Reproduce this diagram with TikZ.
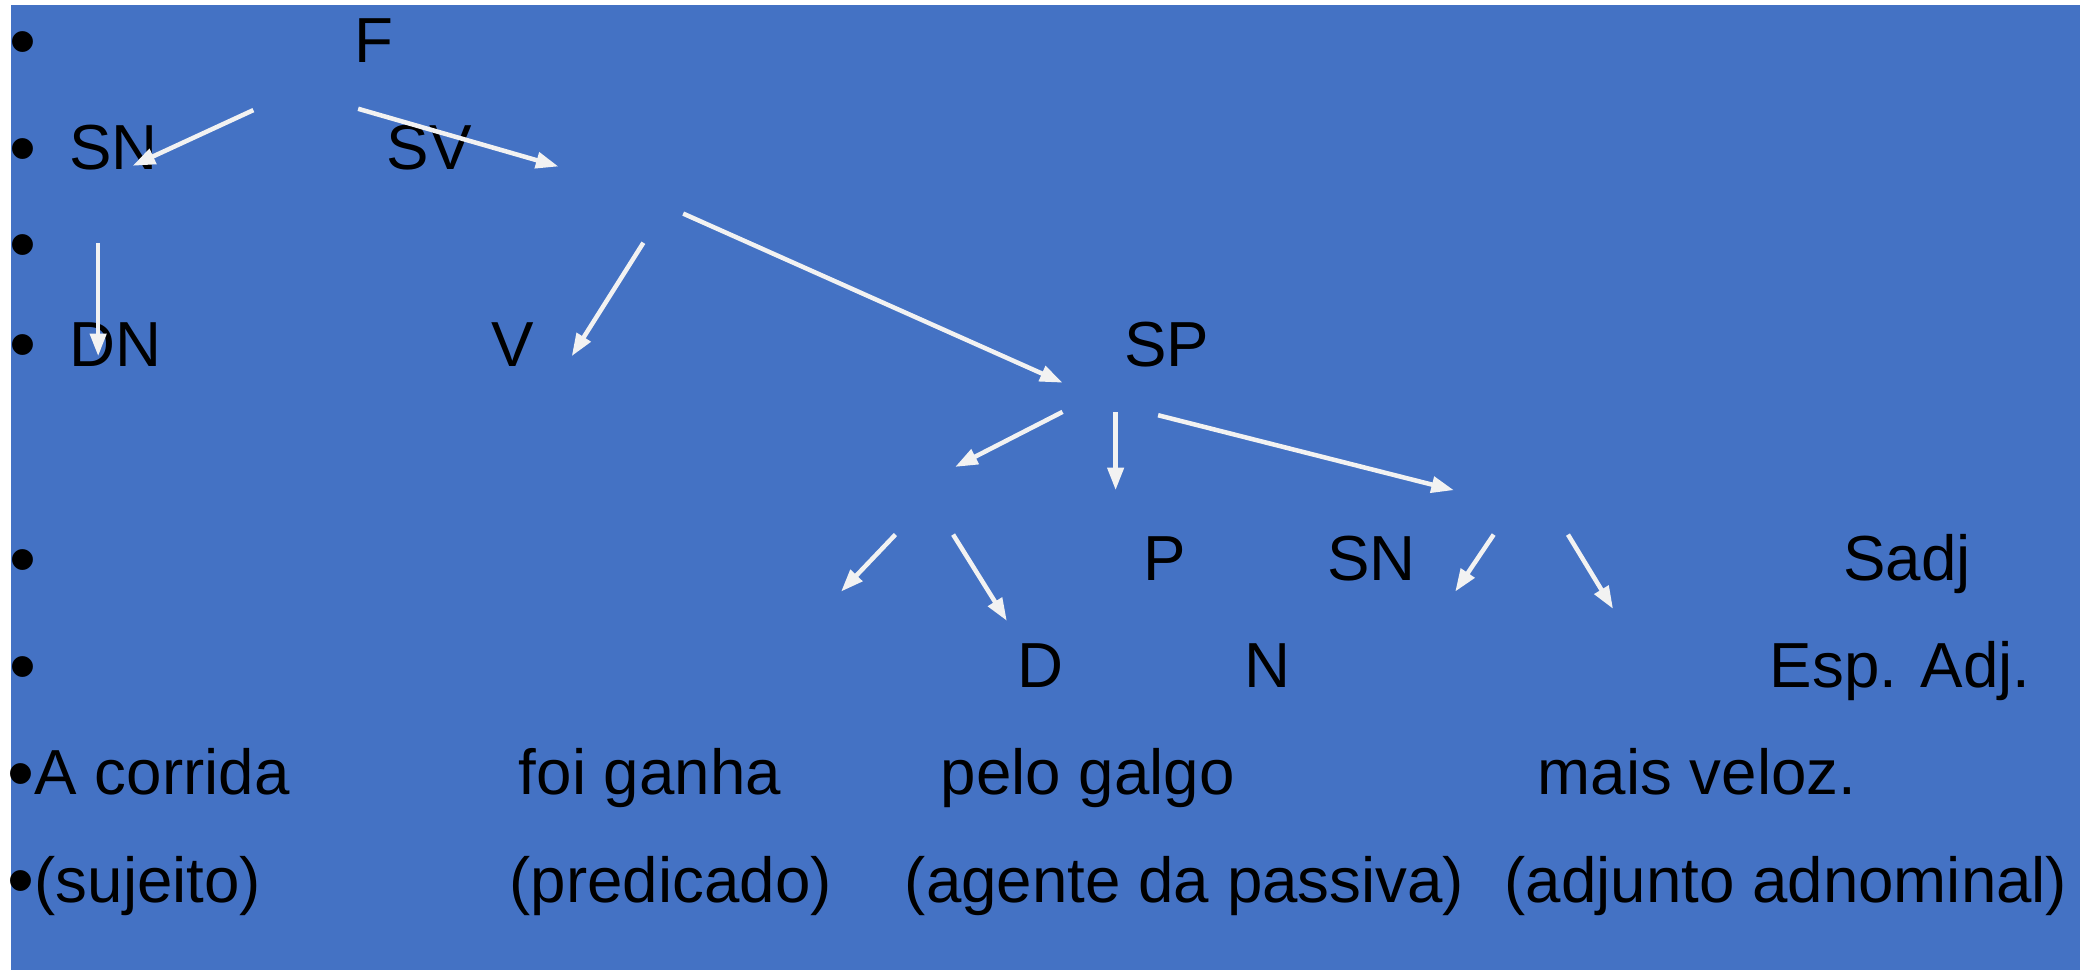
\documentclass[tikz,border=0pt]{standalone}
\usepackage{fontspec}
\setmainfont{Liberation Sans}
\usetikzlibrary{arrows.meta}
\definecolor{bg}{HTML}{4472C4}
\definecolor{arr}{HTML}{F2F2F2}
\newcommand{\bul}{\raisebox{-3.6pt}{\fontsize{58}{58}\selectfont •}}
\begin{document}
\begin{tikzpicture}[x=1pt,y=-1pt,
  txt/.style={anchor=base west, inner sep=0pt, font=\fontsize{48}{57}\selectfont},
  arw/.style={draw=arr, line width=3.4pt, -{Triangle[length=17pt,width=12pt]}}]
\useasboundingbox (0,0) rectangle (1568,731);
\fill[bg] (8.5,4) rectangle (1568,731);
% bullets
\node[txt] (b1) at (7,47) {\bul};
\node[txt] (b2) at (7,128) {\bul};
\node[txt] (b3) at (7,200) {\bul};
\node[txt] (b4) at (7,276) {\bul};
\node[txt] (b6) at (7,437.5) {\bul};
\node[txt] (b7) at (7,518.5) {\bul};
% labels
\node[txt] (F) at (267,47) {F};
\node[txt] (SN1) at (52,128) {SN};
\node[txt] (SV) at (291.5,128) {SV};
\node[txt] (DN) at (52,276) {DN};
\node[txt] (V) at (370,276) {V};
\node[txt] (SP) at (847.5,276) {SP};
\node[txt] (P) at (862,437.5) {P};
\node[txt] (SN2) at (1000.5,437.5) {SN};
\node[txt] (Sadj) at (1389.5,437.5) {Sadj};
\node[txt] (D) at (767,518.5) {D};
\node[txt] (N) at (938,518.5) {N};
\node[txt] (Esp) at (1334,518.5) {Esp. Adj.};
\node[txt] (w1) at (5.7,599) {\bul A corrida};
\node[txt] (w2) at (391,599) {foi ganha};
\node[txt] (w3) at (709,599) {pelo galgo};
\node[txt] (w4) at (1159,599) {mais veloz.};
\node[txt] (f1) at (5.7,680) {\bul(sujeito)};
\node[txt] (f2) at (384,680) {(predicado)};
\node[txt] (f3) at (682,680) {(agente da passiva)};
\node[txt] (f4) at (1134,680) {(adjunto adnominal)};
% arrow end points
\coordinate (a1s) at (191,83);  \coordinate (a1e) at (100,125);
\coordinate (a2s) at (270,82);  \coordinate (a2e) at (421,125.5);
\coordinate (a3s) at (74,183);  \coordinate (a3e) at (74,268.5);
\coordinate (a4s) at (485,183); \coordinate (a4e) at (431,268.5);
\coordinate (a5s) at (515,161); \coordinate (a5e) at (801,288.5);
\coordinate (a6s) at (801,310.5); \coordinate (a6e) at (720,352);
\coordinate (a7s) at (841,310.5); \coordinate (a7e) at (841,369.5);
\coordinate (a8s) at (873,313); \coordinate (a8e) at (1096,369.5);
\coordinate (a9s) at (675,403); \coordinate (a9e) at (634,446);
\coordinate (a10s) at (718.5,403); \coordinate (a10e) at (759,468);
\coordinate (a11s) at (1126,403); \coordinate (a11e) at (1097,446);
\coordinate (a12s) at (1182,403); \coordinate (a12e) at (1216,459);
\foreach \i in {1,...,12} {\draw[arw] (a\i s) -- (a\i e);}
\end{tikzpicture}
\end{document}
